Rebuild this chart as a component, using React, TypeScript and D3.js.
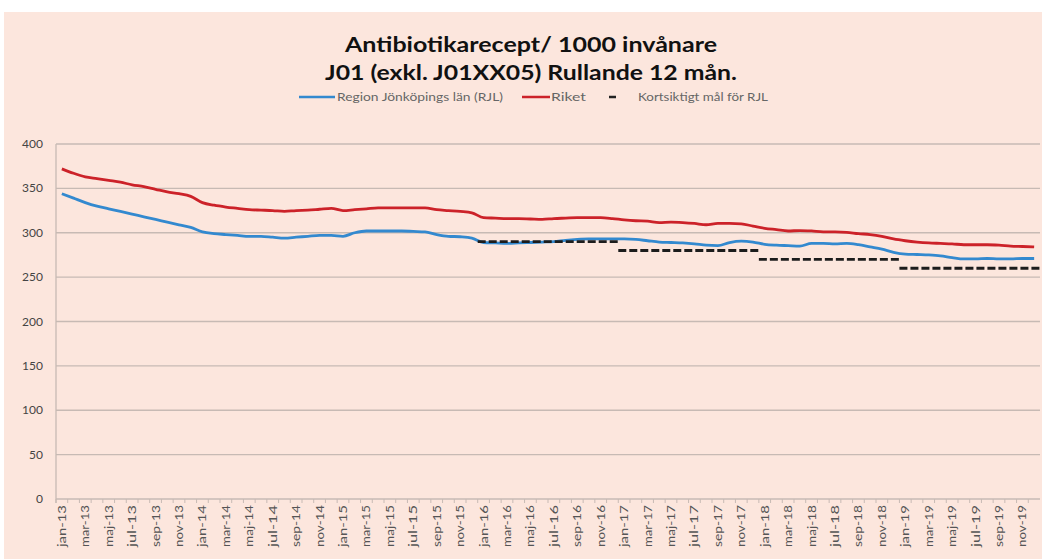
import React from "react";
import * as d3 from "d3";

const monthNames = ["jan", "feb", "mar", "apr", "maj", "jun", "jul", "aug", "sep", "okt", "nov", "dec"];
const years = ["13", "14", "15", "16", "17", "18", "19"];
const months: string[] = years.flatMap((y) => monthNames.map((m) => `${m}-${y}`));

const riket: number[] = [
  372, 367, 363, 361, 359, 357, 354, 352, 349, 346, 344, 341,
  334, 331, 329, 327.5, 326, 325.5, 325, 324, 325, 325.5, 326.5, 327.5,
  325, 326, 327, 328, 328, 328, 328, 328, 326, 325, 324, 322.5,
  317, 316.5, 316, 316, 315.5, 315, 316, 316.5, 317, 317, 317, 316,
  314.5, 313.5, 313, 311.5, 312, 311.5, 310.5, 309, 310.5, 310.5, 310, 307.5,
  305, 303.5, 302, 302.5, 302, 301, 301, 300.5, 299, 298, 296, 293,
  291, 289.5, 288.5, 288, 287.5, 286.5, 286.5, 286.5, 286, 285, 284.5, 284,
];

const rjl: number[] = [
  344, 339, 334, 330, 327, 324, 321, 318, 315, 312, 309, 306,
  301, 299, 298, 297, 296, 296, 295, 294, 295, 296, 297, 297,
  296, 300, 302, 302, 302, 302, 301.5, 301, 298, 296, 295.5, 294,
  289, 288.5, 288, 288.5, 289, 289.5, 290, 291.5, 292.5, 293, 293, 293,
  293, 292.5, 291, 289.5, 289, 288.5, 287.5, 286, 285.5, 289, 290.5, 289.5,
  287, 286, 285.5, 285, 288, 288, 287.5, 288, 286.5, 284, 281.5, 278,
  276, 275.5, 275, 274, 272, 270.5, 270.5, 271, 270.5, 270.5, 271, 271,
];

const targetStart = ["jan-16", "jan-17", "jan-18", "jan-19"];
const targetEnd = ["dec-16", "dec-17", "dec-18", "dec-19"];
const targetValue = [290, 280, 270, 260];

const yTicks = [0, 50, 100, 150, 200, 250, 300, 350, 400];

const titleLines = ["Antibiotikarecept/ 1000 invånare", "J01 (exkl. J01XX05) Rullande 12 mån."];
const legendLabels = ["Region Jönköpings län (RJL)", "Riket", "Kortsiktigt mål för RJL"];

const BLUE = "#3389cf";
const RED = "#cc2229";

export default function App() {
  const W = 1042;
  const H = 559;
  const x = d3.scaleBand<string>().domain(months).range([56, 1040]);
  const y = d3.scaleLinear().domain([0, 400]).range([499, 144]);
  const cx = (m: string) => (x(m) as number) + x.bandwidth() / 2;

  const line = d3
    .line<number>()
    .x((_, i) => cx(months[i]))
    .y((d) => y(d))
    .curve(d3.curveMonotoneX);

  const font = "Lato, 'Open Sans', sans-serif";

  return (
    <svg
      width={W}
      height={H}
      style={{ position: "absolute", left: 0, top: 0, background: "#fff" }}
    >
      <rect x={4} y={12} width={W - 4} height={H - 12} fill="#fce6dd" />
      {/* title */}
      <text x={531} y={52} textAnchor="middle" fontFamily={font} fontWeight="bold" fontSize={21} fill="#111" textLength={372} lengthAdjust="spacingAndGlyphs">
        {titleLines[0]}
      </text>
      <text x={531} y={80} textAnchor="middle" fontFamily={font} fontWeight="bold" fontSize={21} fill="#111" textLength={412} lengthAdjust="spacingAndGlyphs">
        {titleLines[1]}
      </text>
      {/* legend */}
      <g fontFamily={font} fontSize={10.5} fill="#666">
        <line x1={299} x2={335} y1={97} y2={97} stroke={BLUE} strokeWidth={2.5} />
        <text x={337} y={101} textLength={166} lengthAdjust="spacingAndGlyphs">{legendLabels[0]}</text>
        <line x1={522} x2={550} y1={97} y2={97} stroke={RED} strokeWidth={2.5} />
        <text x={551} y={101} textLength={35} lengthAdjust="spacingAndGlyphs">{legendLabels[1]}</text>
        <line x1={609} x2={616} y1={97} y2={97} stroke="#222" strokeWidth={2.5} />
        <text x={638} y={101} textLength={130} lengthAdjust="spacingAndGlyphs">{legendLabels[2]}</text>
      </g>
      {/* gridlines */}
      {yTicks.map((t) => (
        <line key={t} x1={56} x2={1040} y1={y(t)} y2={y(t)} stroke="#c7bab4" strokeWidth={1.3} />
      ))}
      {/* y axis */}
      <line x1={56} x2={56} y1={y(400)} y2={y(0) + 4} stroke="#c7bab4" strokeWidth={1.3} />
      {yTicks.map((t) => (
        <text key={t} x={43} y={y(t) + 4} textAnchor="end" fontFamily={font} fontSize={12} fill="#444">
          {t}
        </text>
      ))}
      {/* x ticks */}
      {months.map((m) => (
        <line key={m} x1={x(m) as number} x2={x(m) as number} y1={y(0)} y2={y(0) + 4} stroke="#c7bab4" strokeWidth={1} />
      ))}
      {months.map((m, i) =>
        i % 2 === 0 ? (
          <text
            key={m}
            transform={`translate(${cx(m) + 4},${y(0) + 6}) rotate(-90)`}
            textAnchor="end"
            fontFamily={font}
            fontSize={11.5}
            fill="#555"
            textLength={42}
            lengthAdjust="spacingAndGlyphs"
          >
            {m}
          </text>
        ) : null
      )}
      {/* lines */}
      <path d={line(riket) || ""} fill="none" stroke={RED} strokeWidth={2.8} />
      <path d={line(rjl) || ""} fill="none" stroke={BLUE} strokeWidth={2.8} />
      {/* targets */}
      {targetValue.map((v, i) => (
        <line
          key={i}
          x1={(x(targetStart[i]) as number)}
          x2={(x(targetEnd[i]) as number) + x.bandwidth()}
          y1={y(v)}
          y2={y(v)}
          stroke="#1c1c1c"
          strokeWidth={2.8}
          strokeDasharray="8,3"
        />
      ))}
    </svg>
  );
}
